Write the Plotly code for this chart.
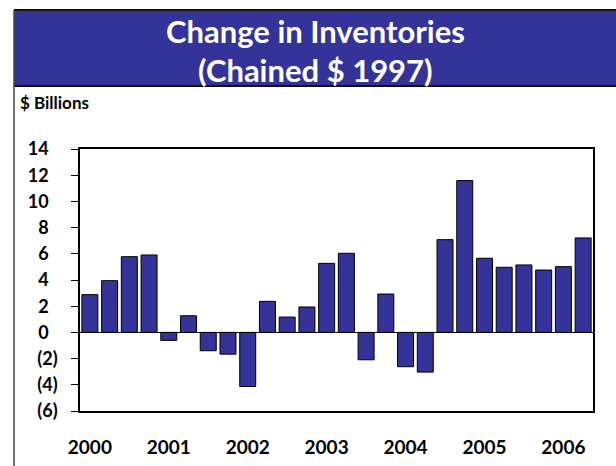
import plotly.graph_objects as go

quarters = list(range(26))
values = [2.88, 3.95, 5.78, 5.91, -0.61, 1.27, -1.40, -1.66, -4.13, 2.37, 1.17, 1.94,
          5.27, 6.04, -2.09, 2.93, -2.62, -3.03, 7.08, 11.59, 5.66, 4.97, 5.15, 4.76, 5.02, 7.21]
year_ticks = [0, 4, 8, 12, 16, 20, 24]
year_labels = ["2000", "2001", "2002", "2003", "2004", "2005", "2006"]
y_ticks = [-6, -4, -2, 0, 2, 4, 6, 8, 10, 12, 14]
y_labels = ["(6)", "(4)", "(2)", "0", "2", "4", "6", "8", "10", "12", "14"]

BLUE = "#333399"
FONT = "Lato"

W, H = 616, 466
PL, PR, PT, PB = 80, 593, 149, 411  # plot area in page pixels
L, R, T, B = PL, W - PR, PT, H - PB
pw, ph = PR - PL, PB - PT

def px(x):
    return (x - PL) / pw

def py(y):
    return (PB - y) / ph

# accounting-style labels: non-negative numbers leave room for the closing paren
y_text = [lab if lab.startswith("(") else lab + "\u2002" for lab in y_labels]

fig = go.Figure()
fig.add_trace(go.Bar(
    x=quarters, y=values,
    marker=dict(color=BLUE, line=dict(color="black", width=1)),
    hoverinfo="skip",
))

shapes = [
    dict(type="rect", xref="paper", yref="paper", x0=px(14), x1=px(620), y0=py(86), y1=py(10),
         fillcolor=BLUE, line=dict(width=0), layer="below"),
    dict(type="line", xref="paper", yref="paper", x0=px(14), x1=px(620), y0=py(10), y1=py(10),
         line=dict(color="#111111", width=2)),
    dict(type="line", xref="paper", yref="paper", x0=px(14), x1=px(620), y0=py(86), y1=py(86),
         line=dict(color="#111111", width=2)),
    dict(type="line", xref="paper", yref="paper", x0=px(14), x1=px(14), y0=py(10), y1=py(470),
         line=dict(color="#444444", width=1.5)),
]

annotations = [
    dict(text="<b>Change in Inventories</b>", xref="paper", yref="paper", x=px(315), y=py(31),
         xanchor="center", yanchor="middle", showarrow=False,
         font=dict(family=FONT, size=31, color="white")),
    dict(text="<b>(Chained $ 1997)</b>", xref="paper", yref="paper", x=px(315), y=py(70),
         xanchor="center", yanchor="middle", showarrow=False,
         font=dict(family=FONT, size=31, color="white")),
    dict(text="<b>$ Billions</b>", xref="paper", yref="paper", x=px(18), y=py(102),
         xanchor="left", yanchor="middle", showarrow=False,
         font=dict(family=FONT, size=17, color="black")),
]

fig.update_layout(
    width=W, height=H,
    margin=dict(l=L, r=R, t=T, b=B, pad=0, autoexpand=False),
    paper_bgcolor="white", plot_bgcolor="white",
    bargap=0.19,
    showlegend=False,
    shapes=shapes,
    annotations=annotations,
    xaxis=dict(
        range=[-0.5, 25.5], automargin=False,
        tickmode="array", tickvals=year_ticks, ticktext=year_labels,
        ticks="", showgrid=False, zeroline=False,
        showline=True, linecolor="black", linewidth=1.5, mirror=True,
        tickfont=dict(family=FONT, size=19, color="black", weight="bold"),
        ticklabelstandoff=18,
    ),
    yaxis=dict(
        range=[-6, 14], automargin=False,
        tickmode="array", tickvals=y_ticks, ticktext=y_text,
        ticks="outside", ticklen=7, tickcolor="black", tickwidth=1,
        showgrid=False,
        zeroline=True, zerolinecolor="black", zerolinewidth=1,
        showline=True, linecolor="black", linewidth=1.5, mirror=True,
        tickfont=dict(family=FONT, size=18, color="black", weight="bold"),
        ticklabelstandoff=10,
    ),
)

fig.write_html(
    "out.html",
    config={"displayModeBar": False},
    post_script="document.body.style.margin='0px';document.body.style.overflow='hidden';",
)
